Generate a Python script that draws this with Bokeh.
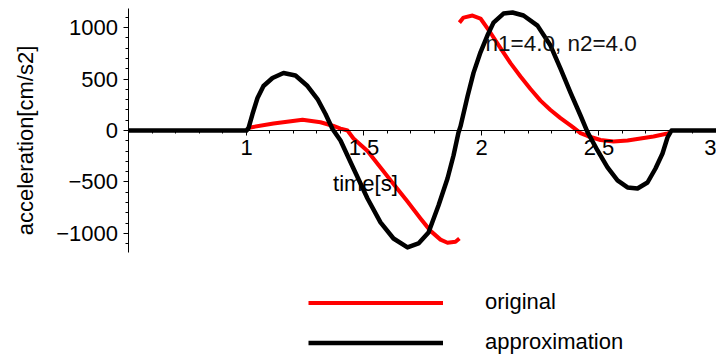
import numpy as np
from bokeh.plotting import figure
from bokeh.models import LinearAxis, FixedTicker, Label, Legend, LegendItem, Range1d
from bokeh.embed import file_html
from bokeh.resources import INLINE

# approximation (black)
t_appr = [0.5, 1.0, 1.0085, 1.0255, 1.0468, 1.0723, 1.1106, 1.1574, 1.2085, 1.2596, 1.3021,
          1.3362, 1.3660, 1.4000, 1.4553, 1.5149, 1.5702, 1.6255, 1.6851, 1.7319, 1.7745,
          1.8170, 1.8553, 1.8809, 1.9021, 1.9106, 1.9404, 1.9660, 1.9957, 2.0255, 2.0511,
          2.0936, 2.1319, 2.1787, 2.2383, 2.2936, 2.3362, 2.3787, 2.4213, 2.4511, 2.4936,
          2.5362, 2.5787, 2.6213, 2.6638, 2.7064, 2.7404, 2.7702, 2.7915, 2.8085, 3.0]
a_appr = [0, 0, 24, 160, 316, 432, 510, 558, 534, 432, 306,
          160, 15, -97, -369, -660, -893, -1049, -1136, -1097, -990,
          -728, -466, -243, -19, 40, 330, 560, 760, 925, 1048,
          1136, 1146, 1117, 1019, 825, 602, 369, 146, -15, -194,
          -359, -485, -553, -563, -505, -369, -223, -68, 0, 0]

# original (red), two pieces separated by a break
t_orig = [1.0043, 1.1149, 1.2383, 1.3149, 1.3702, 1.4000, 1.4298, 1.4553, 1.5149, 1.5702,
          1.6255, 1.6851, 1.7404, 1.7830, 1.8255, 1.8553, 1.8894, 1.9060, np.nan,
          1.9060, 1.9234, 1.9617, 1.9957, 2.0383, 2.0809, 2.1234, 2.1660, 2.2085, 2.2511,
          2.2936, 2.3362, 2.3787, 2.3915, 2.4213, 2.4511, 2.5064, 2.5617, 2.6213, 2.6766,
          2.7319, 2.7915, 2.8043]
a_orig = [25, 68, 105, 80, 44, 19, 0, -78, -200, -360,
          -520, -690, -854, -975, -1060, -1090, -1080, -1049, np.nan,
          1048, 1097, 1117, 1088, 950, 800, 655, 525, 403, 290,
          200, 120, 50, 28, -25, -53, -92, -107, -97, -78,
          -58, -29, -20]

x_ticks = [1, 1.5, 2, 2.5, 3]
x_labels = ["1", "1.5", "2", "2.5", "3"]
x_minor = [0.6, 0.7, 0.8, 0.9, 1.1, 1.2, 1.3, 1.4, 1.6, 1.7, 1.8, 1.9,
           2.1, 2.2, 2.3, 2.4, 2.6, 2.7, 2.8, 2.9]
y_ticks = [-1000, -500, 0, 500, 1000]
y_minor = [-1100, -900, -800, -700, -600, -400, -300, -200, -100,
           100, 200, 300, 400, 600, 700, 800, 900, 1100]

FONT = "Liberation Sans"
FS = "22px"

# the frame fills the whole canvas; axes are drawn at data positions with bounds
p = figure(width=716, height=354, x_range=Range1d(-0.0468, 3.0), y_range=Range1d(-2176, 1263),
           output_backend="svg", toolbar_location=None, x_axis_type=None, y_axis_type=None,
           min_border_left=0, min_border_right=0, min_border_top=0, min_border_bottom=0)
p.outline_line_color = None
p.background_fill_color = "white"

xa = LinearAxis(fixed_location=0, bounds=(0.5, 3.0),
                ticker=FixedTicker(ticks=x_ticks, minor_ticks=x_minor))
xa.major_label_overrides = {float(k): v for k, v in zip(x_ticks, x_labels)}
ya = LinearAxis(fixed_location=0.5, bounds=(-1185, 1185),
                ticker=FixedTicker(ticks=y_ticks, minor_ticks=y_minor))
for ax in (xa, ya):
    ax.axis_line_color = "black"
    ax.axis_line_width = 1
    ax.major_tick_in = 0
    ax.major_tick_out = 5
    ax.minor_tick_in = 0
    ax.minor_tick_out = 3
    ax.major_tick_line_color = "black"
    ax.minor_tick_line_color = "black"
    ax.major_label_text_font = FONT
    ax.major_label_text_font_size = FS
    ax.major_label_text_color = "black"
xa.major_label_standoff = 4
ya.major_label_standoff = 6
p.add_layout(xa, "below")
p.add_layout(ya, "left")

r_orig = p.line(t_orig, a_orig, line_color="#ff0000", line_width=4, line_join="round")
r_appr = p.line(t_appr, a_appr, line_color="black", line_width=4.5, line_join="round")

p.add_layout(Label(x=1.506, y=-519, text="time[s]", text_align="center", text_baseline="middle",
                   text_font=FONT, text_font_size=FS, text_color="black"))
p.add_layout(Label(x=0.0596, y=-97, text="acceleration[cm/s2]", angle=np.pi / 2,
                   text_align="center", text_baseline="middle",
                   text_font=FONT, text_font_size=FS, text_color="black"))
p.add_layout(Label(x=2.017, y=845, text="n1=4.0, n2=4.0", text_align="left", text_baseline="middle",
                   text_font=FONT, text_font_size="22.5px", text_color="#111111"))

legend = Legend(items=[LegendItem(label="original", renderers=[r_orig]),
                       LegendItem(label="approximation", renderers=[r_appr])],
                location=(308, -1), glyph_width=135, glyph_height=25, label_height=25,
                label_standoff=42, spacing=14, padding=0, margin=0,
                border_line_color=None, background_fill_alpha=0,
                label_text_font=FONT, label_text_font_size=FS, label_text_color="black")
p.add_layout(legend, "center")

open("out.html", "w").write(file_html(p, INLINE))
